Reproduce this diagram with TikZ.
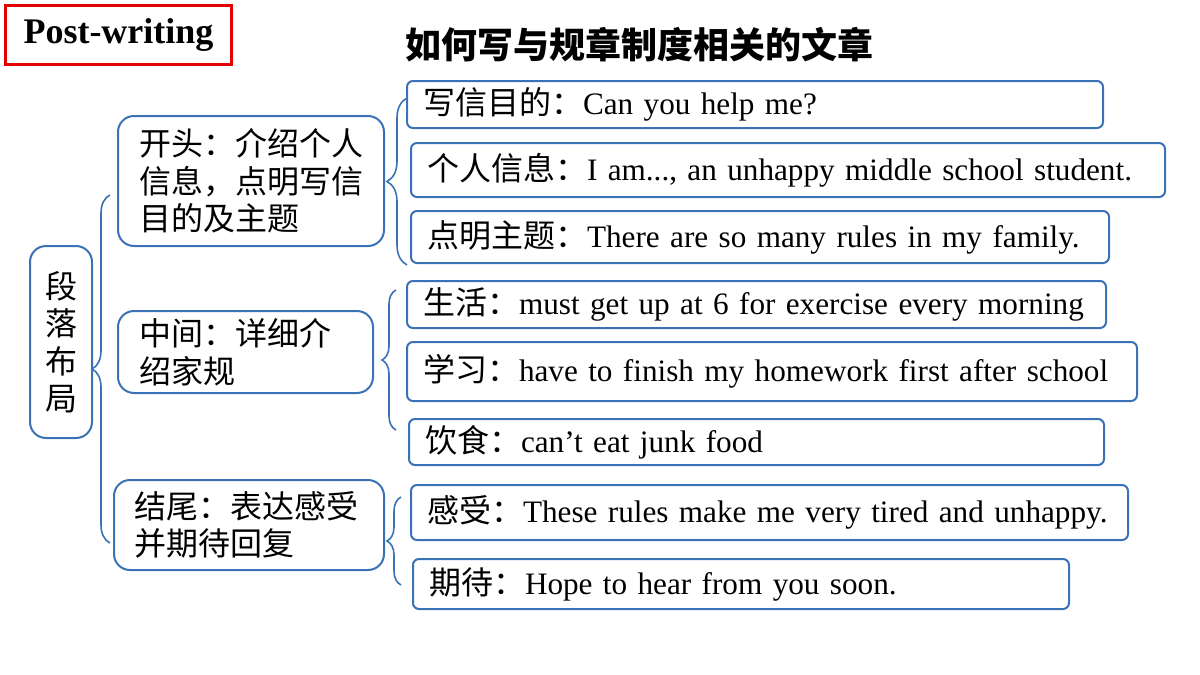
\documentclass[tikz,border=0pt]{standalone}
\usepackage{fontspec}
\setmainfont{Liberation Serif}
\newfontfamily\cjk{Noto Sans CJK SC}
\usepackage{tikz}
\usetikzlibrary{decorations.pathreplacing}
\definecolor{bbb}{RGB}{59,114,181}
\definecolor{rrr}{RGB}{228,0,0}
\newcommand{\zh}[1]{{\cjk\fontsize{16}{19}\selectfont #1}}
\tikzstyle{leaf}=[draw=bbb,line width=1pt,rounded corners=3pt,anchor=north west,align=left,inner xsep=8pt,inner ysep=0pt,font=\fontsize{15.6}{19}\selectfont]
\tikzstyle{part}=[draw=bbb,line width=1pt,rounded corners=8pt,anchor=north west,align=left,inner ysep=0pt,font=\cjk\fontsize{16}{18.75}\selectfont]
\tikzstyle{br}=[draw=bbb,line width=0.8pt,decorate,decoration={brace,amplitude=#1}]

\begin{document}
\begin{tikzpicture}[x=0.5pt,y=-0.5pt]
\useasboundingbox (0,0) rectangle (1200,675);
% title
\node[draw=rrr,line width=1.5pt,anchor=north west,minimum width=113pt,minimum height=29.5pt,inner sep=0pt,font=\bfseries\fontsize{18}{20}\selectfont] (post) at (4,4) {Post-writing};
\node[anchor=west,inner sep=0pt,font=\cjk\bfseries\fontsize{18}{20}\selectfont] (title) at (405,45) {如何写与规章制度相关的文章};
% left
\node[part,align=center,text width=16pt,inner xsep=7.5pt,minimum height=96pt] (layout) at (29,245) {段\\落\\布\\局};
\node[part,text width=112pt,inner xsep=10.5pt,minimum height=65pt] (begin) at (117,115) {开头：介绍个人\\信息，点明写信\\目的及主题};
\node[part,text width=106.5pt,inner xsep=10.5pt,minimum height=41pt] (body) at (117,310) {中间：详细介\\绍家规};
\node[part,text width=115pt,inner xsep=10pt,minimum height=45pt] (ending) at (113,479) {结尾：表达感受\\并期待回复};
% right
\node[leaf,text width=332pt,minimum height=23.5pt] (purpose) at (406,80) {\mbox{\zh{写信目的：}Can you help me?}};
\node[leaf,text width=361pt,minimum height=27pt] (info) at (410,142) {\mbox{\zh{个人信息：}I am..., an unhappy middle school student.}};
\node[leaf,text width=333pt,minimum height=26pt] (topic) at (410,210) {\mbox{\zh{点明主题：}There are so many rules in my family.}};
\node[leaf,text width=333.5pt,minimum height=23.5pt] (life) at (406,280) {\mbox{\zh{生活：}must get up at 6 for exercise every morning}};
\node[leaf,text width=349pt,minimum height=29.5pt] (study) at (406,341) {\mbox{\zh{学习：}have to finish my homework first after school}};
\node[leaf,text width=331.5pt,minimum height=23pt] (food) at (408,418) {\mbox{\zh{饮食：}can’t eat junk food}};
\node[leaf,text width=342.5pt,minimum height=27.5pt] (feel) at (410,484) {\mbox{\zh{感受：}These rules make me very tired and unhappy.}};
\node[leaf,text width=312pt,minimum height=25pt] (hope) at (412,558) {\mbox{\zh{期待：}Hope to hear from you soon.}};
% braces
\coordinate (l1) at (110,543); \coordinate (l2) at (110,195);
\coordinate (a1) at (407,265); \coordinate (a2) at (407,98);
\coordinate (b1) at (396,430); \coordinate (b2) at (396,290);
\coordinate (c1) at (401,585); \coordinate (c2) at (401,497);
\draw[br=9pt] (l1) -- (l2);
\draw[br=10pt] (a1) -- (a2);
\draw[br=7pt] (b1) -- (b2);
\draw[br=7pt] (c1) -- (c2);
\end{tikzpicture}
\end{document}
